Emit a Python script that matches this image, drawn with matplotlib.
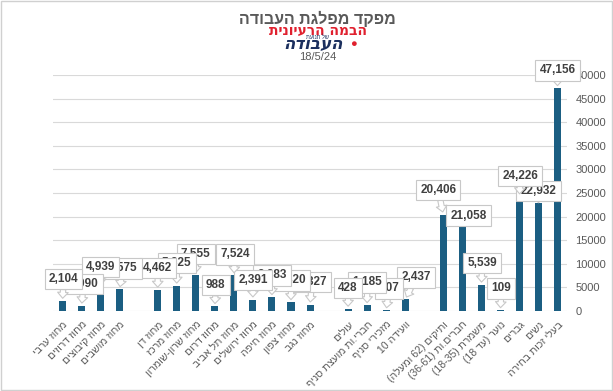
import re
import matplotlib
matplotlib.use("Agg")
import matplotlib.pyplot as plt
from matplotlib.patches import Rectangle

plt.rcParams["font.family"] = ["Liberation Sans", "DejaVu Sans"]

# data (empty strings are the gaps between groups)
categories = [
    "מחוז ערבי", "מחוז דרוזים", "מחוז קיבוצים", "מחוז מושבים", "",
    "מחוז דן", "מחוז מרכז", "מחוז שרון-שומרון", "מחוז דרום", "מחוז תל אביב",
    "מחוז ירושלים", "מחוז חיפה", "מחוז צפון", "מחוז נגב", "",
    "עולים", "חברי.ות מועצת סניף", "מזכירי סניף", "וועידה 10", "",
    "ותיקים (62 ומעלה)", "חברים.ות (36-61)", "משמרת (18-35)", "נוער (עד 18)",
    "גברים", "נשים", "בעלי זכות בחירה",
]
values = [
    2104, 1090, 4939, 4575, None,
    4462, 5325, 7555, 988, 7524,
    2391, 2883, 1820, 1327, None,
    428, 1185, 107, 2437, None,
    20406, 21058, 5539, 109,
    24226, 22932, 47156,
]
# callout box offsets (pixels) from the bar top, to copy the excel placement
offsets = [
    (1, 22), (2, 22), (0, 21), (3, 21), None,
    (0, 22), (0, 23), (0, 21), (1, 21), (1, 21),
    (0, 20), (0, 22), (0, 22), (2, 23), None,
    (0, 21), (0, 23), (3, 22), (11, 22), None,
    (-5, 25), (6, -4), (1, 22), (1, 22),
    (1, 21), (0, 12), (0, 18),
]
yticks = list(range(0, 50001, 5000))

BAR = "#1b5e82"
GREY = "#595959"


def visual(s):
    # crude bidi: reverse hebrew, keep number runs, mirror brackets
    r = s[::-1]
    r = re.sub(r"[0-9][0-9\-]*[0-9]|[0-9]", lambda m: m.group(0)[::-1], r)
    return r.translate(str.maketrans("()", ")("))


fig = plt.figure(figsize=(6.13, 3.91), dpi=100)
fig.patches.append(Rectangle((0.002, 0.003), 0.996, 0.994, transform=fig.transFigure,
                             fill=False, ec="#d0d0d0", lw=1.0))
ax = fig.add_axes([0.0865, 0.2046, 0.8385, 0.6036])

xs = [i for i, v in enumerate(values) if v is not None]
hs = [v for v in values if v is not None]
ax.bar(xs, hs, width=0.37, color=BAR, zorder=2)

for i, v in enumerate(values):
    if v is None:
        continue
    dx, dy = offsets[i]
    arrow = None
    if dy > 0:
        arrow = dict(arrowstyle="simple,head_length=0.5,head_width=0.9,tail_width=0.45",
                     fc="white", ec="#c8c8c8", lw=0.8, shrinkA=0, shrinkB=2)
    ax.annotate(f"{v:,}", xy=(i, v), xytext=(dx, dy), textcoords="offset pixels",
                ha="center", va="center", fontsize=8.5, fontweight="bold", color="#404040",
                bbox=dict(boxstyle="square,pad=0.35", fc="white", ec="#c8c8c8", lw=0.8),
                arrowprops=arrow, zorder=100 - i)

ax.set_xlim(-0.5, len(categories) - 0.5)
ax.set_ylim(0, 50000)
ax.set_xticks(range(len(categories)))
ax.set_xticklabels([visual(c) for c in categories], rotation=45, ha="right",
                   va="top", rotation_mode="anchor", fontsize=7.5, color=GREY)
ax.yaxis.tick_right()
ax.set_yticks(yticks)
ax.set_yticklabels([str(t) for t in yticks], fontsize=8, color=GREY)
ax.tick_params(length=0, pad=6)
ax.grid(axis="y", color="#d9d9d9", lw=0.8, zorder=0)
for s in ax.spines.values():
    s.set_visible(False)

# title block and logo made of text
cx = 0.518
fig.text(cx, 0.952, visual("מפקד מפלגת העבודה"), ha="center", va="center",
         fontsize=11.5, fontweight="bold", color=GREY)
fig.text(cx, 0.922, visual("הבמה הרעיונית"), ha="center", va="center",
         fontsize=10, fontweight="bold", color="#e0202e", family="DejaVu Sans")
fig.text(cx, 0.905, visual("של תנועת"), ha="center", va="center",
         fontsize=4, color="#1b2f5e")
fig.text(cx - 0.008, 0.887, visual("העבודה"), ha="center", va="center",
         fontsize=12, fontweight="bold", fontstyle="italic", color="#1b2f5e",
         family="DejaVu Sans")
fig.text(cx + 0.058, 0.888, "●", ha="center", va="center", fontsize=8, color="#e0202e")
fig.text(cx, 0.853, "18/5/24", ha="center", va="center", fontsize=8, color=GREY)

fig.savefig("out.png", dpi=100)
